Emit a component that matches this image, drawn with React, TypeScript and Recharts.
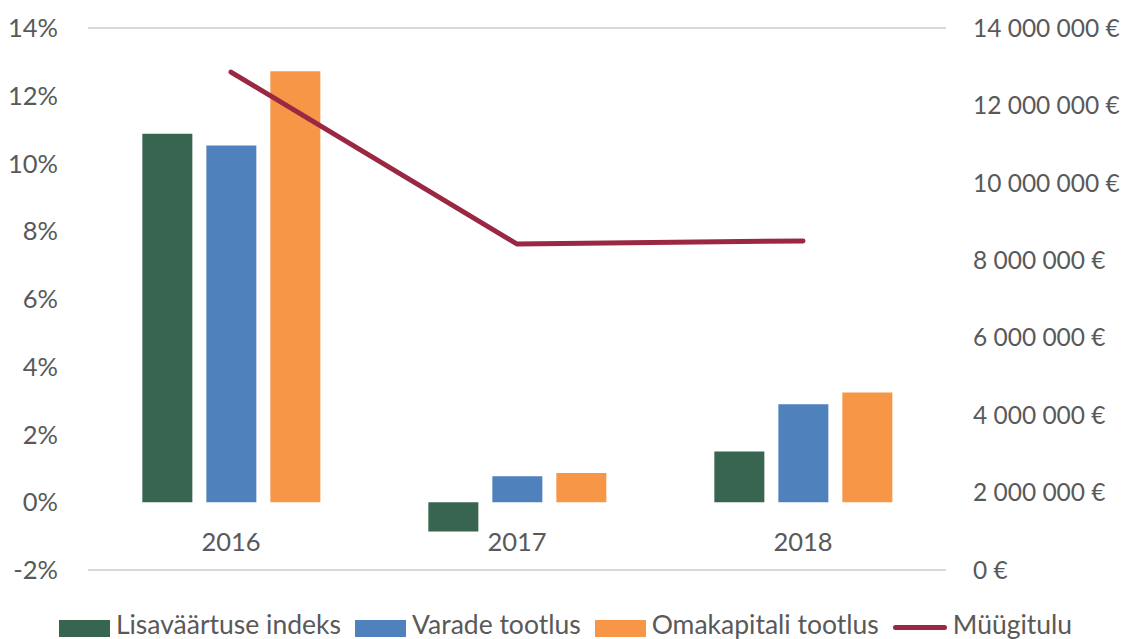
import { ComposedChart, Bar, Line, XAxis, YAxis, CartesianGrid } from 'recharts'

const years = ['2016', '2017', '2018']
const lisavaartus = [10.88, -0.86, 1.5]
const varade = [10.53, 0.77, 2.89]
const omakapital = [12.72, 0.86, 3.24]
const myygitulu = [12860000, 8420000, 8500000]

const pctTicks = [-2, 0, 2, 4, 6, 8, 10, 12, 14]
const eurTicks = [0, 2000000, 4000000, 6000000, 8000000, 10000000, 12000000, 14000000]

const FONT = 'Lato, "Open Sans", sans-serif'
const TEXT = '#595959'

const SERIES = [
  { key: 'lisa', name: 'Lisaväärtuse indeks', color: '#376550', type: 'bar' },
  { key: 'varade', name: 'Varade tootlus', color: '#4F81BD', type: 'bar' },
  { key: 'oma', name: 'Omakapitali tootlus', color: '#F79646', type: 'bar' },
  { key: 'myyk', name: 'Müügitulu', color: '#9A2843', type: 'line' },
]

const data = years.map((y, i) => ({
  year: y,
  lisa: lisavaartus[i],
  varade: varade[i],
  oma: omakapital[i],
  myyk: myygitulu[i],
}))

const fmtEur = (v: number) => `${String(v).replace(/\B(?=(\d{3})+(?!\d))/g, ' ')} €`

// Excel puts the category labels right under the 0% line, not at the bottom
const YearTick = ({ x, y, payload }: any) => (
  <text x={x} y={y - 27} textAnchor="middle" fill={TEXT} fontSize={25.5} fontFamily={FONT}>
    {payload.value}
  </text>
)

export default function App() {
  return (
    <div style={{ position: 'fixed', top: 0, left: 0, width: 1131, height: 639, background: '#fff', overflow: 'hidden' }}>
      <ComposedChart width={1131} height={639} data={data}
        margin={{ top: 28, right: 5, bottom: 39, left: 8 }}
        barCategoryGap="19%" barGap={14}>
        <CartesianGrid vertical={false} stroke="#D9D9D9" strokeWidth={2} />
        <XAxis dataKey="year" height={30} axisLine={false} tickLine={false} tick={<YearTick />} interval={0} />
        <YAxis yAxisId="pct" width={80} domain={[-2, 14]} ticks={pctTicks} axisLine={false} tickLine={false}
          tickMargin={24} tickFormatter={v => `${v}%`}
          tick={{ fill: TEXT, fontSize: 25.5, fontFamily: FONT }} />
        <YAxis yAxisId="eur" orientation="right" width={180} domain={[0, 14000000]} ticks={eurTicks}
          axisLine={false} tickLine={false} tickMargin={21} tickFormatter={fmtEur}
          tick={{ fill: TEXT, fontSize: 24.5, fontFamily: FONT, textAnchor: 'start' }} />
        <Bar yAxisId="pct" dataKey="lisa" fill="#376550" isAnimationActive={false} />
        <Bar yAxisId="pct" dataKey="varade" fill="#4F81BD" isAnimationActive={false} />
        <Bar yAxisId="pct" dataKey="oma" fill="#F79646" isAnimationActive={false} />
        <Line yAxisId="eur" dataKey="myyk" stroke="#9A2843" strokeWidth={5} strokeLinecap="round"
          dot={false} activeDot={false} isAnimationActive={false} />
      </ComposedChart>

      {/* legend */}
      <div style={{ position: 'absolute', top: 609, left: 0, width: 1131, display: 'flex', justifyContent: 'center',
        alignItems: 'center', fontFamily: FONT, fontSize: 26.5, color: TEXT, whiteSpace: 'nowrap', lineHeight: '30px' }}>
        {SERIES.map((s, i) => (
          <div key={s.key} style={{ display: 'flex', alignItems: 'center', marginRight: i < SERIES.length - 1 ? 14 : 0 }}>
            {s.type === 'bar'
              ? <span style={{ display: 'inline-block', width: 51, height: 17, background: s.color, marginRight: 6, marginTop: 8 }} />
              : <span style={{ display: 'inline-block', width: 54, height: 5, borderRadius: 3, background: s.color, marginRight: 6, marginTop: 6 }} />}
            {s.name}
          </div>
        ))}
      </div>
    </div>
  )
}
